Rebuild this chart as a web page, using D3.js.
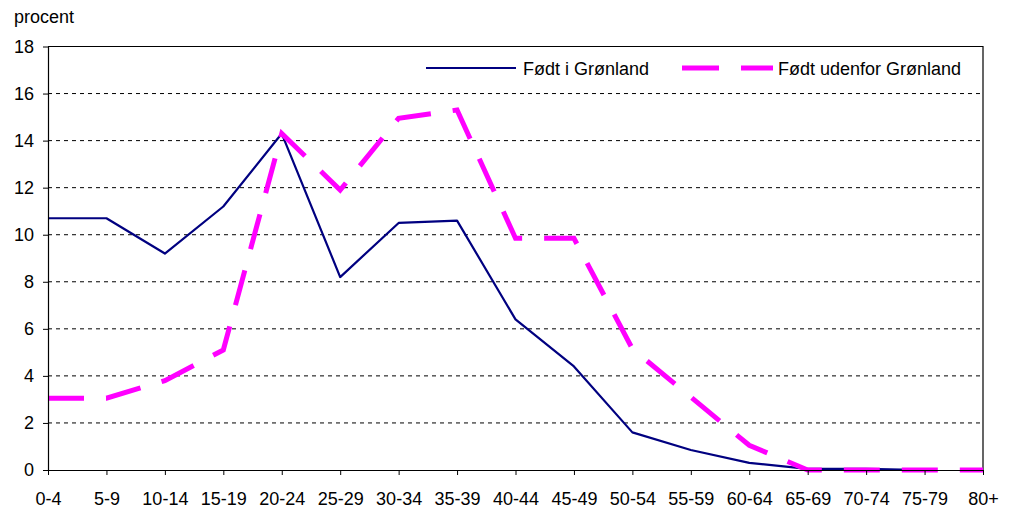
<!DOCTYPE html>
<html lang="da">
<head>
  <meta charset="UTF-8">
  <title>Procent efter alder</title>
  <script src="https://d3js.org/d3.v7.min.js"></script>
  <style>
    body { margin: 0; background: #fff; }
    text { font-family: "Liberation Sans", Arial, sans-serif; fill: #000; }
  </style>
</head>
<body>
  <div id="chart"></div>

  <script>
    const ageGroups = ["0-4", "5-9", "10-14", "15-19", "20-24", "25-29", "30-34", "35-39",
      "40-44", "45-49", "50-54", "55-59", "60-64", "65-69", "70-74", "75-79", "80+"];
    const bornInGreenland = [10.7, 10.7, 9.2, 11.2, 14.3, 8.2, 10.5, 10.6,
      6.4, 4.4, 1.6, 0.85, 0.3, 0.05, 0.05, 0.0, null];
    const bornOutside = [3.05, 3.05, 3.8, 5.1, 14.3, 11.9, 14.95, 15.3,
      9.85, 9.85, 5.15, 3.1, 1.05, 0, 0, 0, 0];
    const yTicks = [0, 2, 4, 6, 8, 10, 12, 14, 16, 18];

    const width = 1013;
    const height = 510;
    const margin = { top: 46.5, right: 30, bottom: 40, left: 48 };
    const fontSize = "18px";

    const svg = d3.select("#chart")
      .append("svg")
      .attr("width", width)
      .attr("height", height);

    const x = d3.scalePoint()
      .domain(ageGroups)
      .range([margin.left, width - margin.right]);

    const y = d3.scaleLinear()
      .domain([0, 18])
      .range([height - margin.bottom, margin.top]);

    // dashed gridlines
    svg.append("g")
      .selectAll("line")
      .data(yTicks.filter(d => d > 0 && d < 18))
      .enter().append("line")
      .attr("x1", margin.left)
      .attr("x2", width - margin.right)
      .attr("y1", d => y(d))
      .attr("y2", d => y(d))
      .attr("stroke", "#000")
      .attr("stroke-width", 1)
      .attr("stroke-dasharray", "4,4");

    // plot border top and right
    svg.append("path")
      .attr("d", `M${margin.left},${y(18)}H${width - margin.right}V${y(0)}`)
      .attr("fill", "none")
      .attr("stroke", "#000")
      .attr("stroke-width", 1.2);

    const line = d3.line()
      .defined(d => d.v !== null)
      .x(d => x(d.age))
      .y(d => y(d.v));

    svg.append("path")
      .datum(ageGroups.map((age, i) => ({ age, v: bornInGreenland[i] })))
      .attr("fill", "none")
      .attr("stroke", "#000080")
      .attr("stroke-width", 2.2)
      .attr("stroke-linejoin", "round")
      .attr("d", line);

    svg.append("path")
      .datum(ageGroups.map((age, i) => ({ age, v: bornOutside[i] })))
      .attr("fill", "none")
      .attr("stroke", "#ff00ff")
      .attr("stroke-width", 5)
      .attr("stroke-dasharray", "36,22")
      .attr("d", line);

    // axes
    const xAxis = svg.append("g")
      .attr("transform", `translate(0,${y(0)})`)
      .call(d3.axisBottom(x).tickSize(5).tickSizeOuter(0).tickPadding(17));
    xAxis.select(".domain").attr("stroke", "#000").attr("stroke-width", 1.2);
    xAxis.selectAll(".tick line").attr("stroke", "#000");
    xAxis.selectAll("text").style("font-size", fontSize);

    const yAxis = svg.append("g")
      .attr("transform", `translate(${margin.left},0)`)
      .call(d3.axisLeft(y).tickValues(yTicks).tickSize(5).tickSizeOuter(0).tickPadding(9));
    yAxis.select(".domain").attr("stroke", "#000").attr("stroke-width", 1.2);
    yAxis.selectAll(".tick line").attr("stroke", "#000");
    yAxis.selectAll("text").style("font-size", fontSize);

    svg.append("text")
      .attr("x", 14)
      .attr("y", 23)
      .style("font-size", fontSize)
      .text("procent");

    // legend
    const legend = svg.append("g").attr("transform", "translate(0,68)");
    legend.append("line")
      .attr("x1", 426).attr("x2", 516)
      .attr("stroke", "#000080").attr("stroke-width", 2.2);
    legend.append("text")
      .attr("x", 523).attr("y", 6.5)
      .style("font-size", fontSize)
      .text("Født i Grønland");
    legend.append("line")
      .attr("x1", 682).attr("x2", 773)
      .attr("stroke", "#ff00ff").attr("stroke-width", 5)
      .attr("stroke-dasharray", "37,22");
    legend.append("text")
      .attr("x", 778).attr("y", 6.5)
      .style("font-size", fontSize)
      .text("Født udenfor Grønland");
  </script>
</body>
</html>
